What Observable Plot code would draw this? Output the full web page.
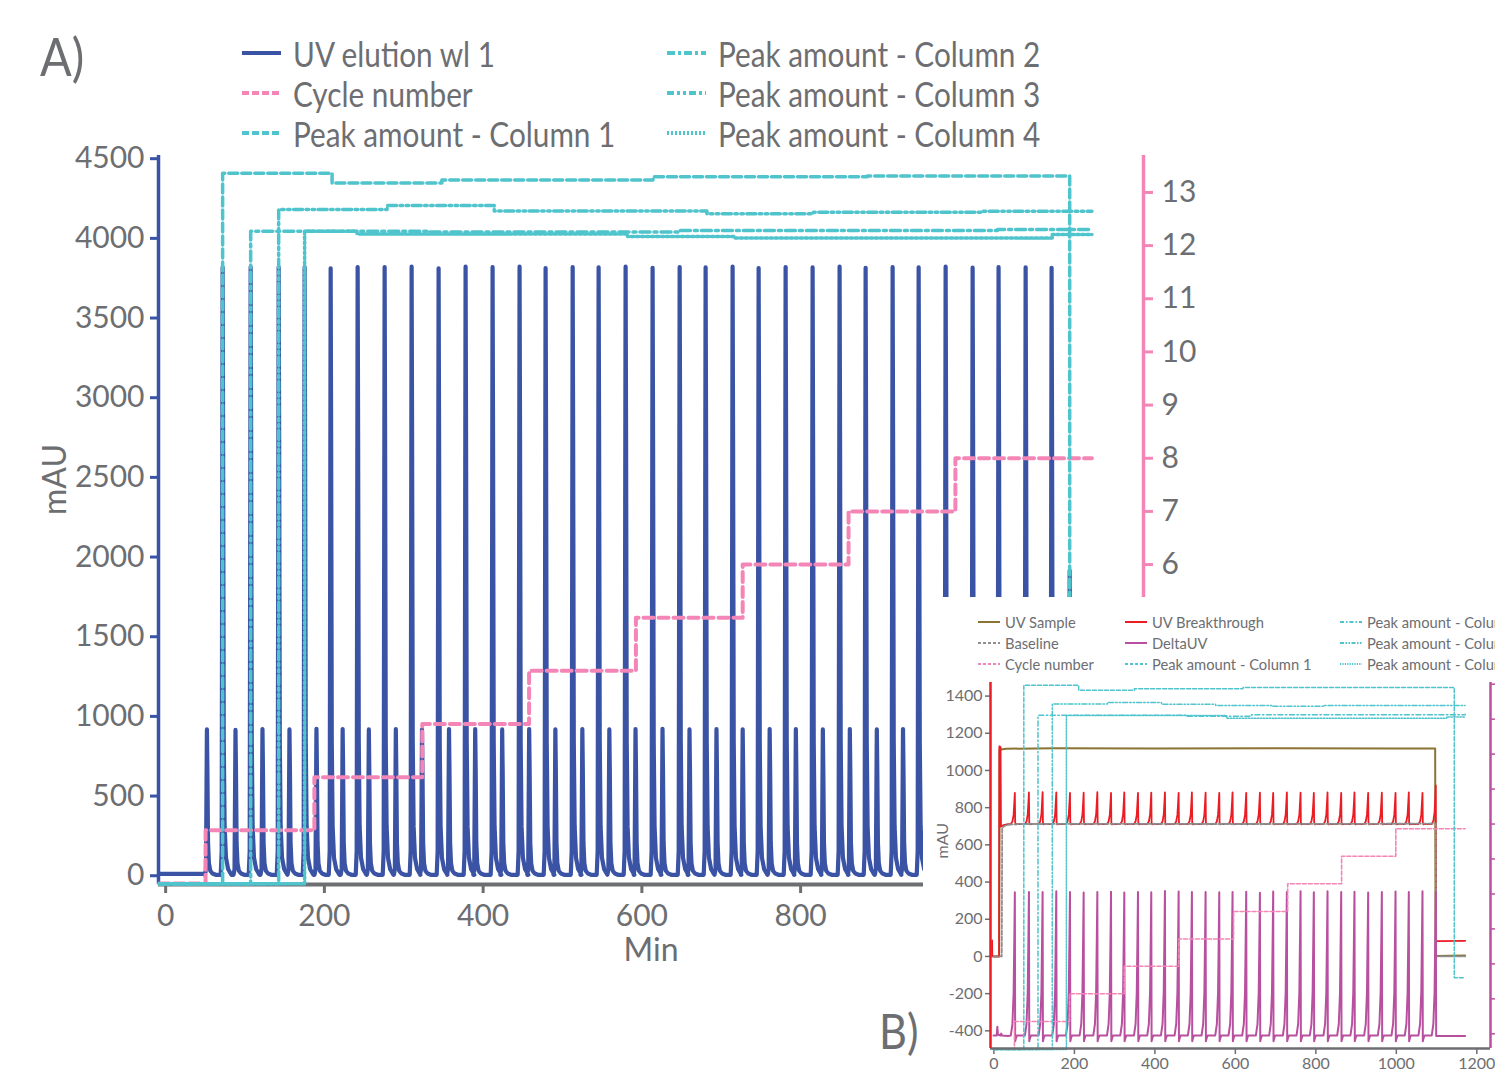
<!DOCTYPE html>
<html><head><meta charset="utf-8">
<script src="https://cdn.jsdelivr.net/npm/d3@7"></script>
<script src="https://cdn.jsdelivr.net/npm/@observablehq/plot@0.6"></script>
<style>
html,body{margin:0;padding:0;background:#fff;overflow:hidden;width:1495px;height:1077px;}
body{position:relative;font-family:Lato,"Noto Sans",sans-serif;font-weight:400;color:#6d6e71;}
.abs{position:absolute;}
.lg{position:absolute;display:flex;align-items:center;white-space:nowrap;}
.lg span{display:inline-block;line-height:1;color:#6d6e71;transform-origin:left center;}
</style></head><body>
<div id="chartA" class="abs" style="left:0;top:0"></div>
<div id="legendA"></div>
<div id="labelA" class="abs" style="left:40px;top:30px;font-size:52px;line-height:1;transform:scaleX(0.9);transform-origin:left top;">A)</div>
<div id="inset" class="abs" style="left:923px;top:597px;width:572px;height:480px;background:#fff;overflow:hidden;">
  <div id="chartB" style="position:absolute;left:0;top:0;width:625px;"></div>
  <div id="legendB"></div>
</div>
<div id="labelB" class="abs" style="left:879px;top:1007px;font-size:48px;line-height:1;transform:scaleX(0.9);transform-origin:left top;">B)</div>
<script>
// ---------- colours ----------
const blue = "#3a53a4", pink = "#f386b7", cyan = "#4fc4cc", gray = "#6d6e71";
const olive = "#8a7333", baseGray = "#8e8e8e", red = "#ec1c24", purple = "#b9509f";

// ================= PANEL A DATA =================
const xTicksA = [0, 200, 400, 600, 800];
const yTicksA = [0, 500, 1000, 1500, 2000, 2500, 3000, 3500, 4000, 4500];
const cycleTicksA = [6, 7, 8, 9, 10, 11, 12, 13];
// cycle number is drawn against the right axis: mAU = cycleOffsetA + cycleStepA * cycle
const cycleOffsetA = -48.7, cycleStepA = 333.6;

const smallPeakTimesA = [52, 88, 122, 156, 190, 223, 256, 290, 323, 357, 390, 424, 458, 491, 525, 559, 592, 626, 660, 694, 727, 761, 794, 828, 862, 896, 929, 963, 997, 1030, 1064, 1098];
const smallPeakHeightsA = [918, 915, 920, 918, 922, 920, 918, 920, 917, 920, 921, 918, 920, 919, 921, 918, 920, 922, 918, 920, 919, 921, 920, 918, 920, 919, 921, 920, 918, 920, 919, 920];
const tallPeakTimesA = [71.8, 107.1, 142.4, 175.1, 207.9, 241.9, 275.9, 309.9, 343.9, 377.9, 411.9, 445.9, 478.7, 512.8, 545.5, 579.5, 613.5, 647.6, 680.3, 714.3, 747.1, 781.1, 815.1, 849.1, 881.9, 915.9, 948.7, 982.7, 1016.7, 1049.4, 1083.5, 1116.2];
const tallPeakHeightsA = [3818, 3820, 3820, 3820, 3812, 3820, 3820, 3822, 3812, 3822, 3820, 3822, 3814, 3820, 3818, 3822, 3815, 3820, 3818, 3822, 3814, 3820, 3818, 3822, 3815, 3820, 3818, 3822, 3816, 3820, 3818, 3815];
const stripPeakTimesA = [1139];
const stripPeakHeightsA = [1915];
const uvStartTimesA = [-8, 48];
const uvStartValuesA = [12, 12];
const uvBaseA = 6;
const uvEndTimeA = 1167;
// peak profile: time offset (min) and fraction of the peak height
const peakShapeOffsetsA = [-2.4, -1.2, -0.5, 0, 0.6, 1.4, 2.5, 4.2, 7, 11];
const peakShapeRelA = [0, 0.04, 0.6, 1, 0.72, 0.22, 0.08, 0.028, 0.009, 0];

const cycleTimesA = [-8, 50.3, 187.4, 323.3, 457.9, 592.5, 727.0, 860.4, 995.0, 1167];
const cycleValuesA = [0, 1, 2, 3, 4, 5, 6, 7, 8, 8];

const col1TimesA = [-8, 71.8, 209.7, 348, 614, 884, 1139, 1167];
const col1ValuesA = [-50, 4409, 4347, 4367, 4387, 4392, -50, -50];
const col2TimesA = [-8, 107.1, 330, 648, 1048, 1167];
const col2ValuesA = [-50, 4045, 4040, 4050, 4055, 4055];
const col3TimesA = [-8, 142.4, 279, 414, 682, 816, 1030, 1167];
const col3ValuesA = [-50, 4181, 4206, 4172, 4154, 4164, 4170, 4170];
const col4TimesA = [-8, 175.1, 241, 582, 716, 1117, 1167];
const col4ValuesA = [-50, 4045, 4028, 4011, 4003, 4024, 4024];

// ================= PANEL B DATA =================
const xTicksB = [0, 200, 400, 600, 800, 1000, 1200];
const yTicksB = [-400, -200, 0, 200, 400, 600, 800, 1000, 1200, 1400];
const rightTicksB = [-416, -228, -40, 148, 336, 524, 712, 900, 1088, 1276, 1464];

const spikeTimesB = [52, 87, 121, 155, 189, 223, 257, 291, 324, 358, 391, 425, 459, 492, 526, 560, 593, 627, 661, 694, 728, 762, 795, 829, 863, 896, 930, 964, 998, 1031, 1065, 1098];
const breakthroughPeaksB = [880, 882, 884, 882, 880, 881, 884, 880, 882, 880, 881, 882, 880, 882, 881, 880, 882, 880, 881, 880, 882, 881, 880, 882, 880, 882, 880, 881, 880, 882, 880, 920];
const deltaPeaksB = [345, 347, 346, 350, 346, 344, 346, 348, 344, 346, 345, 352, 349, 346, 347, 345, 346, 348, 342, 349, 346, 351, 345, 350, 346, 348, 344, 347, 349, 346, 350, 346];
const breakthroughBaseB = 712;
const deltaBaseB = -425;
const spikeShapeOffsetsB = [-10, -6, -3, -1.2, 0, 0.8, 2.5, 5];
const breakthroughShapeRelB = [0, 0.08, 0.3, 0.7, 1, 0.05, -0.01, 0];
const deltaShapeRelB = [0, 0.08, 0.3, 0.7, 1, -0.04, -0.02, 0];

const breakthroughStartTimesB = [-4.5, -4.5, -4, 13, 13.5, 16.5, 17.5, 24, 35];
const breakthroughStartValuesB = [0, 86, 0, 0, 1130, 1125, 698, 706, 711];
const breakthroughEndTimesB = [1099, 1171];
const breakthroughEndValuesB = [82, 84];
const deltaStartTimesB = [-1, 7, 8.5, 10, 16, 18, 20, 35];
const deltaStartValuesB = [-425, -425, -378, -420, -425, -415, -425, -428];
const deltaEndTimesB = [1099, 1171];
const deltaEndValuesB = [-428, -428];

const sampleTimesB = [-1, 13, 14, 30, 150, 400, 700, 1000, 1096.5, 1097.5, 1171];
const sampleValuesB = [0, 0, 1112, 1117, 1119, 1118, 1119, 1118, 1118, 3, 5];
const baselineTimesB = [-1, 19.5, 20.5, 25, 35, 60, 300, 600, 900, 1098, 1099, 1171];
const baselineValuesB = [0, 0, 690, 700, 708, 712, 713, 712, 713, 714, 0, 0];

const cycleTimesB = [-1, 51, 188, 324, 459.5, 595.6, 730, 864, 998.7, 1171];
const cycleValuesB = [-497, -350, -201, -53, 94, 242, 391, 539, 687, 687];

const col1TimesB = [-1, 74.3, 210.5, 349, 619, 1144, 1171];
const col1ValuesB = [-500, 1458, 1431, 1440, 1446, -115, -115];
const col2TimesB = [-1, 109.5, 480, 640, 1171];
const col2ValuesB = [-500, 1297, 1292, 1300, 1302];
const col3TimesB = [-1, 145, 282, 416.5, 551, 690, 820, 1171];
const col3ValuesB = [-500, 1358, 1365, 1356, 1350, 1345, 1350, 1350];
const col4TimesB = [-1, 180, 578, 1125, 1171];
const col4ValuesB = [-500, 1295, 1281, 1288, 1288];

// ---------- helpers ----------
const pts = (ts, vs) => ts.map((t, i) => ({t, v: vs[i]}));
function addPeak(arr, t, h, base, offs, rel, onlyRise) {
  offs.forEach((o, k) => { if (!onlyRise || o <= 0) arr.push({t: t + o, v: base + (h - base) * rel[k]}); });
}
const fmt = d => String(d);

// UV elution A
const eventsA = [
  ...smallPeakTimesA.map((t, i) => ({t, h: smallPeakHeightsA[i]})),
  ...tallPeakTimesA.map((t, i) => ({t, h: tallPeakHeightsA[i]})),
  ...stripPeakTimesA.map((t, i) => ({t, h: stripPeakHeightsA[i]}))
].sort((a, b) => a.t - b.t);
const uvA = pts(uvStartTimesA, uvStartValuesA);
eventsA.forEach(e => addPeak(uvA, e.t, e.h, uvBaseA, peakShapeOffsetsA, peakShapeRelA));
uvA.push({t: uvEndTimeA, v: uvBaseA});

const cycleA = cycleTimesA.map((t, i) => ({t, v: cycleOffsetA + cycleStepA * cycleValuesA[i]}));

// B series
const breakB = pts(breakthroughStartTimesB, breakthroughStartValuesB);
spikeTimesB.forEach((t, i) => addPeak(breakB, t, breakthroughPeaksB[i], breakthroughBaseB, spikeShapeOffsetsB, breakthroughShapeRelB, i === spikeTimesB.length - 1));
breakB.push(...pts(breakthroughEndTimesB, breakthroughEndValuesB));
const deltaB = pts(deltaStartTimesB, deltaStartValuesB);
spikeTimesB.forEach((t, i) => addPeak(deltaB, t, deltaPeaksB[i], deltaBaseB, spikeShapeOffsetsB, deltaShapeRelB, i === spikeTimesB.length - 1));
deltaB.push(...pts(deltaEndTimesB, deltaEndValuesB));

const FONT = "Lato, 'Noto Sans', sans-serif";

// ================= PLOT A =================
const dashA = {c1: "9,4", c2: "10,4,3,4", c3: "9,3.5,2.5,3.5,2.5,3.5", c4: "2.5,2.5", cyc: "10,5"};
const chartA = Plot.plot({
  width: 1215, height: 990,
  marginLeft: 158, marginRight: 72, marginTop: 155, marginBottom: 106,
  x: {domain: [-9, 1232]},
  y: {domain: [-55, 4520]},
  style: {fontFamily: FONT, color: gray, background: "transparent", overflow: "visible", maxWidth: "none"},
  marks: [
    Plot.ruleY([-55], {stroke: gray, strokeWidth: 4}),
    Plot.axisX(xTicksA, {anchor: "bottom", stroke: gray, strokeWidth: 3, tickSize: 9, tickPadding: 11, fill: gray, fontSize: 30, label: null, tickFormat: fmt}),
    Plot.axisY(yTicksA, {anchor: "left", stroke: blue, strokeWidth: 3, tickSize: 8, tickPadding: 6, fill: gray, fontSize: 30, label: null, tickFormat: fmt}),
    Plot.axisY(cycleTicksA.map(c => cycleOffsetA + cycleStepA * c), {anchor: "right", stroke: pink, strokeWidth: 3, tickSize: 9, tickPadding: 9, fill: gray, fontSize: 30, label: null, tickFormat: d => String(Math.round((d - cycleOffsetA) / cycleStepA))}),
    Plot.ruleX([-9], {stroke: blue, strokeWidth: 3.5}),
    Plot.ruleX([1232], {stroke: pink, strokeWidth: 3.5}),
    Plot.line(uvA, {x: "t", y: "v", stroke: blue, strokeWidth: 4.2, strokeLinejoin: "round", strokeLinecap: "round"}),
    Plot.line(cycleA, {x: "t", y: "v", curve: "step-after", stroke: pink, strokeWidth: 4, strokeDasharray: dashA.cyc}),
    Plot.line(pts(col4TimesA, col4ValuesA), {x: "t", y: "v", curve: "step-after", stroke: cyan, strokeWidth: 3.5, strokeDasharray: dashA.c4}),
    Plot.line(pts(col3TimesA, col3ValuesA), {x: "t", y: "v", curve: "step-after", stroke: cyan, strokeWidth: 3.5, strokeDasharray: dashA.c3}),
    Plot.line(pts(col2TimesA, col2ValuesA), {x: "t", y: "v", curve: "step-after", stroke: cyan, strokeWidth: 3.5, strokeDasharray: dashA.c2}),
    Plot.line(pts(col1TimesA, col1ValuesA), {x: "t", y: "v", curve: "step-after", stroke: cyan, strokeWidth: 3.5, strokeDasharray: dashA.c1}),
    Plot.text(["Min"], {frameAnchor: "bottom", dy: 76, fontSize: 32, fill: gray}),
    Plot.text(["mAU"], {frameAnchor: "left", dx: -103, dy: -5, rotate: -90, fontSize: 32, fill: gray})
  ]
});
document.getElementById("chartA").appendChild(chartA);

// ================= PLOT B =================
const dashB = {c1: "4,2", c2: "5,2.5,1.5,2.5", c3: "5,2,1.5,2,1.5,2", c4: "1.5,1.5", cyc: "4,2", base: "4,2"};
const chartB = Plot.plot({
  width: 625, height: 480,
  marginLeft: 67, marginRight: 58, marginTop: 85, marginBottom: 29,
  x: {domain: [-8.5, 1234]},
  y: {domain: [-495, 1473]},
  style: {fontFamily: FONT, color: gray, background: "transparent", overflow: "visible", maxWidth: "none"},
  marks: [
    Plot.axisX(xTicksB, {anchor: "bottom", stroke: gray, strokeWidth: 1.5, tickSize: 6, tickPadding: 3, fill: gray, fontSize: 16, label: null, tickFormat: fmt}),
    Plot.axisY(yTicksB, {anchor: "left", stroke: gray, strokeWidth: 1.5, tickSize: 5, tickPadding: 3, fill: gray, fontSize: 16, label: null, tickFormat: fmt}),
    Plot.axisY(rightTicksB, {anchor: "right", stroke: purple, strokeWidth: 1.5, tickSize: 6, tickPadding: 3, fill: gray, fontSize: 16, label: null, tickFormat: () => ""}),
    Plot.line(pts(sampleTimesB, sampleValuesB), {x: "t", y: "v", stroke: olive, strokeWidth: 2}),
    Plot.line(breakB, {x: "t", y: "v", stroke: red, strokeWidth: 1.8, strokeLinejoin: "round"}),
    Plot.line(pts(baselineTimesB, baselineValuesB), {x: "t", y: "v", stroke: baseGray, strokeWidth: 1.8, strokeDasharray: dashB.base}),
    Plot.line(deltaB, {x: "t", y: "v", stroke: purple, strokeWidth: 2, strokeLinejoin: "round"}),
    Plot.line(pts(cycleTimesB, cycleValuesB), {x: "t", y: "v", curve: "step-after", stroke: pink, strokeWidth: 1.6, strokeDasharray: dashB.cyc}),
    Plot.line(pts(col4TimesB, col4ValuesB), {x: "t", y: "v", curve: "step-after", stroke: cyan, strokeWidth: 1.5, strokeDasharray: dashB.c4}),
    Plot.line(pts(col3TimesB, col3ValuesB), {x: "t", y: "v", curve: "step-after", stroke: cyan, strokeWidth: 1.5, strokeDasharray: dashB.c3}),
    Plot.line(pts(col2TimesB, col2ValuesB), {x: "t", y: "v", curve: "step-after", stroke: cyan, strokeWidth: 1.5, strokeDasharray: dashB.c2}),
    Plot.line(pts(col1TimesB, col1ValuesB), {x: "t", y: "v", curve: "step-after", stroke: cyan, strokeWidth: 1.5, strokeDasharray: dashB.c1}),
    Plot.ruleY([-495], {stroke: gray, strokeWidth: 2.5}),
    Plot.ruleX([-8.5], {stroke: red, strokeWidth: 2.5}),
    Plot.ruleX([1234], {stroke: purple, strokeWidth: 2.5}),
    Plot.text(["mAU"], {frameAnchor: "left", dx: -48, dy: -7, rotate: -90, fontSize: 16, fill: gray})
  ]
});
document.getElementById("chartB").appendChild(chartB);

// ================= LEGENDS =================
const legendNamesA = ["UV elution wl 1", "Cycle number", "Peak amount - Column 1", "Peak amount - Column 2", "Peak amount - Column 3", "Peak amount - Column 4"];
const legendColorsA = [blue, pink, cyan, cyan, cyan, cyan];
const legendDashA = ["", "7,3", "7,3", "8,3,3,3", "7,3,3,3,3,3", "2,2"];
const legendNamesB = ["UV Sample", "Baseline", "Cycle number", "UV Breakthrough", "DeltaUV", "Peak amount - Column 1", "Peak amount - Column 2", "Peak amount - Column 3", "Peak amount - Column 4"];
const legendColorsB = [olive, baseGray, pink, red, purple, cyan, cyan, cyan, cyan];
const legendDashB = ["", "3,2", "3,2", "", "", "3,2", "4,2,1.5,2", "4,1.5,1.5,1.5,1.5,1.5", "1.2,1.2"];

function buildLegend(containerId, names, colors, dashes, cfg) {
  const box = document.getElementById(containerId);
  names.forEach((name, i) => {
    const col = Math.floor(i / 3), row = i % 3;
    const d = document.createElement("div");
    d.className = "lg";
    d.style.left = cfg.colX[col] + "px";
    d.style.top = (cfg.rowY[row] - cfg.h / 2) + "px";
    d.style.height = cfg.h + "px";
    d.innerHTML = `<svg width="${cfg.sw}" height="10" style="overflow:visible;flex:none"><line x1="0" x2="${cfg.sw}" y1="5" y2="5" stroke="${colors[i]}" stroke-width="${cfg.lw}" stroke-dasharray="${dashes[i]}"/></svg><span style="margin-left:${cfg.gap}px;font-size:${cfg.fs}px;transform:scaleX(${cfg.sx})">${name}</span>`;
    box.appendChild(d);
  });
}
buildLegend("legendA", legendNamesA, legendColorsA, legendDashA, {colX: [242, 667], rowY: [53, 93, 133], h: 40, sw: 39, lw: 4, gap: 12, fs: 35, sx: 0.85});
buildLegend("legendB", legendNamesB, legendColorsB, legendDashB, {colX: [55, 202, 417], rowY: [25, 46, 67], h: 20, sw: 22, lw: 2, gap: 5, fs: 16, sx: 0.92});
</script>
</body></html>
